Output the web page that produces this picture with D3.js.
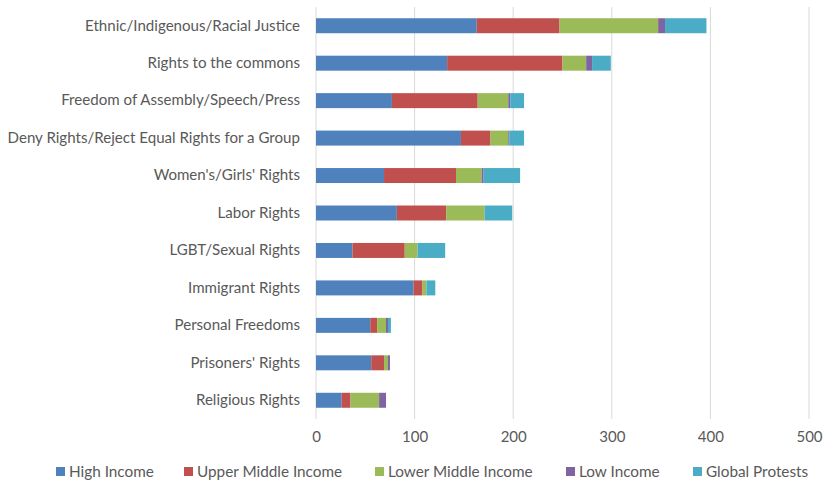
<!DOCTYPE html>
<html>
<head>
<meta charset="utf-8">
<script src="https://cdn.jsdelivr.net/npm/d3@7"></script>
<style>
  body { margin: 0; background: #fff; }
  svg text { font-family: Lato, "Open Sans", sans-serif; fill: #595959; }
</style>
</head>
<body>
<svg id="chart" width="826" height="481"></svg>
<script>
// categories, top to bottom
const categories = [
  "Ethnic/Indigenous/Racial Justice",
  "Rights to the commons",
  "Freedom of Assembly/Speech/Press",
  "Deny Rights/Reject Equal Rights for a Group",
  "Women's/Girls' Rights",
  "Labor Rights",
  "LGBT/Sexual Rights",
  "Immigrant Rights",
  "Personal Freedoms",
  "Prisoners' Rights",
  "Religious Rights"
];

const seriesNames = ["High Income", "Upper Middle Income", "Lower Middle Income", "Low Income", "Global Protests"];
const seriesColors = ["#4f81bd", "#c0504d", "#9bbb59", "#8064a2", "#4bacc6"];

// values, one array per series
const highIncome        = [163, 133, 77, 147, 69, 82, 37, 99, 55, 56, 26];
const upperMiddleIncome = [84, 117, 87, 30, 73, 50, 53, 9, 7, 13, 9];
const lowerMiddleIncome = [100, 24, 31, 18, 26, 39, 13, 4, 9, 4, 29];
const lowIncome         = [7, 6, 2, 1, 2, 0, 0, 0, 2, 2, 7];
const globalProtests    = [42, 19, 14, 15, 37, 28, 28, 9, 3, 0, 0];

const xTicks = [0, 100, 200, 300, 400, 500];

const allSeries = [highIncome, upperMiddleIncome, lowerMiddleIncome, lowIncome, globalProtests];
const rows = categories.map((c, i) => {
  const r = { category: c };
  seriesNames.forEach((s, j) => r[s] = allSeries[j][i]);
  return r;
});

const svg = d3.select("#chart");
const plotLeft = 316, plotRight = 809, plotTop = 7, plotBottom = 419;

const x = d3.scaleLinear().domain([0, 500]).range([plotLeft, plotRight]);
const y = d3.scaleBand().domain(categories).range([plotTop, plotBottom]).paddingInner(0.6).paddingOuter(0.3);

// gridlines
svg.append("g")
  .selectAll("line")
  .data(xTicks)
  .join("line")
    .attr("x1", d => x(d)).attr("x2", d => x(d))
    .attr("y1", plotTop).attr("y2", plotBottom)
    .attr("stroke", "#d9d9d9")
    .attr("stroke-width", 1);

// stacked bars
const stack = d3.stack().keys(seriesNames);
const stacked = stack(rows);

svg.append("g")
  .selectAll("g")
  .data(stacked)
  .join("g")
    .attr("fill", (d, i) => seriesColors[i])
  .selectAll("rect")
  .data(d => d)
  .join("rect")
    .attr("x", d => x(d[0]))
    .attr("y", d => y(d.data.category))
    .attr("width", d => x(d[1]) - x(d[0]))
    .attr("height", y.bandwidth());

// x axis labels
const xAxis = d3.axisBottom(x).tickValues(xTicks).tickSize(0).tickPadding(12);
svg.append("g")
  .attr("transform", `translate(0,${plotBottom})`)
  .call(xAxis)
  .call(g => g.select(".domain").remove())
  .selectAll("text")
    .style("font-size", "15px")
    .style("font-family", "Lato, 'Open Sans', sans-serif")
    .attr("fill", "#595959");

// y axis labels
const yAxis = d3.axisLeft(y).tickSize(0).tickPadding(16);
svg.append("g")
  .attr("transform", `translate(${plotLeft},0)`)
  .call(yAxis)
  .call(g => g.select(".domain").remove())
  .selectAll("text")
    .style("font-size", "15.1px")
    .style("font-family", "Lato, 'Open Sans', sans-serif")
    .attr("fill", "#595959");

// legend
const legendX = [56, 184, 375, 566, 693];
const legend = svg.append("g").attr("transform", "translate(0,472)");
const items = legend.selectAll("g")
  .data(seriesNames)
  .join("g")
    .attr("transform", (d, i) => `translate(${legendX[i]},0)`);
items.append("rect")
  .attr("x", 0).attr("y", -5)
  .attr("width", 9).attr("height", 9)
  .attr("fill", (d, i) => seriesColors[i]);
items.append("text")
  .attr("x", 13).attr("y", 0)
  .attr("dy", "0.35em")
  .style("font-size", "15.3px")
  .text(d => d);
</script>
</body>
</html>
